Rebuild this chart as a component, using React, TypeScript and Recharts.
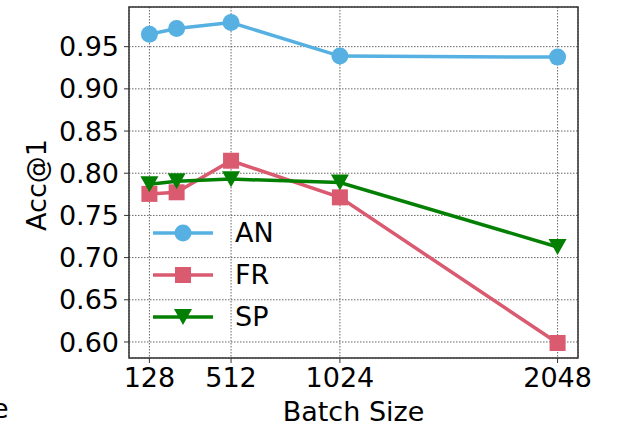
import React from 'react';
import {
  LineChart,
  Line,
  XAxis,
  YAxis,
  CartesianGrid,
  ReferenceArea,
} from 'recharts';

const batchSizes = [128, 256, 512, 1024, 2048];
const anAcc = [0.9646, 0.9714, 0.9786, 0.9388, 0.9376];
const frAcc = [0.7755, 0.7774, 0.8148, 0.7714, 0.5988];
const spAcc = [0.787, 0.7905, 0.793, 0.789, 0.7126];

const xTicks = [128, 512, 1024, 2048];
const yTicks = [0.6, 0.65, 0.7, 0.75, 0.8, 0.85, 0.9, 0.95];

const FONT = '"DejaVu Sans", sans-serif';
const BLUE = '#56B0E2';
const RED = '#DA5A70';
const GREEN = '#038003';

const data = batchSizes.map((b, i) => ({
  batch: b,
  AN: anAcc[i],
  FR: frAcc[i],
  SP: spAcc[i],
}));

const series = [
  { key: 'AN', color: BLUE, marker: 'circle' },
  { key: 'FR', color: RED, marker: 'square' },
  { key: 'SP', color: GREEN, marker: 'triangle' },
];

function Marker({ kind, cx, cy, color }: { kind: string; cx: number; cy: number; color: string }) {
  if (kind === 'circle') return <circle cx={cx} cy={cy} r={8.5} fill={color} />;
  if (kind === 'square') return <rect x={cx - 8} y={cy - 8} width={16} height={16} fill={color} />;
  return <path d={`M${cx - 9},${cy - 8}L${cx + 9},${cy - 8}L${cx},${cy + 8}Z`} fill={color} />;
}

const makeDot = (kind: string, color: string) => (props: any) => (
  <Marker key={`${kind}-${props.index}`} kind={kind} cx={props.cx} cy={props.cy} color={color} />
);

export default function App() {
  return (
    <div style={{ position: 'absolute', left: 0, top: 0, width: 618, height: 430, background: '#fff', fontFamily: FONT }}>
      <LineChart
        width={618}
        height={430}
        data={data}
        margin={{ top: 7, right: 40, bottom: 0, left: 0 }}
      >
        <CartesianGrid stroke="#666" strokeDasharray="1.5 1.5" strokeWidth={1} />
        <XAxis
          dataKey="batch"
          type="number"
          domain={[32, 2144]}
          ticks={xTicks}
          height={72}
          tickSize={5}
          tickMargin={5}
          axisLine={false}
          tickLine={{ stroke: '#333' }}
          tick={{ fill: '#000', fontSize: 27, fontFamily: FONT }}
          allowDataOverflow
          label={(p: any) => (
            <text x={353.5} y={421} textAnchor="middle" fontSize={27} fontFamily={FONT} fill="#000">
              Batch Size
            </text>
          )}
        />
        <YAxis
          type="number"
          domain={[0.581, 0.997]}
          ticks={yTicks}
          width={129}
          tickSize={5}
          tickMargin={5}
          axisLine={false}
          tickLine={{ stroke: '#333' }}
          tick={{ fill: '#000', fontSize: 27, fontFamily: FONT }}
          tickFormatter={(v: number) => v.toFixed(2)}
          allowDataOverflow
          label={(p: any) => (
            <text
              x={46}
              y={185}
              textAnchor="middle"
              fontSize={27}
              fontFamily={FONT}
              fill="#000"
              transform="rotate(-90 46 185)"
            >
              Acc@1
            </text>
          )}
        />
        <ReferenceArea x1={32} x2={2144} y1={0.581} y2={0.997} fill="none" stroke="#333" strokeWidth={1.5} />
        {series.map((s) => (
          <Line
            key={s.key}
            dataKey={s.key}
            stroke={s.color}
            strokeWidth={3.5}
            dot={makeDot(s.marker, s.color)}
            activeDot={false}
            isAnimationActive={false}
          />
        ))}
      </LineChart>
      <div style={{ position: 'absolute', left: 150, top: 212 }}>
        {series.map((s) => (
          <div key={s.key} style={{ display: 'flex', alignItems: 'center', height: 42 }}>
            <svg width={66} height={42}>
              <line x1={3} y1={21} x2={63} y2={21} stroke={s.color} strokeWidth={3.5} />
              <Marker kind={s.marker} cx={33} cy={21} color={s.color} />
            </svg>
            <span style={{ fontSize: 27, marginLeft: 19, lineHeight: '42px' }}>{s.key}</span>
          </div>
        ))}
      </div>
      <div style={{ position: 'absolute', left: -8, top: 391, fontSize: 27, lineHeight: '36px' }}>e</div>
    </div>
  );
}
